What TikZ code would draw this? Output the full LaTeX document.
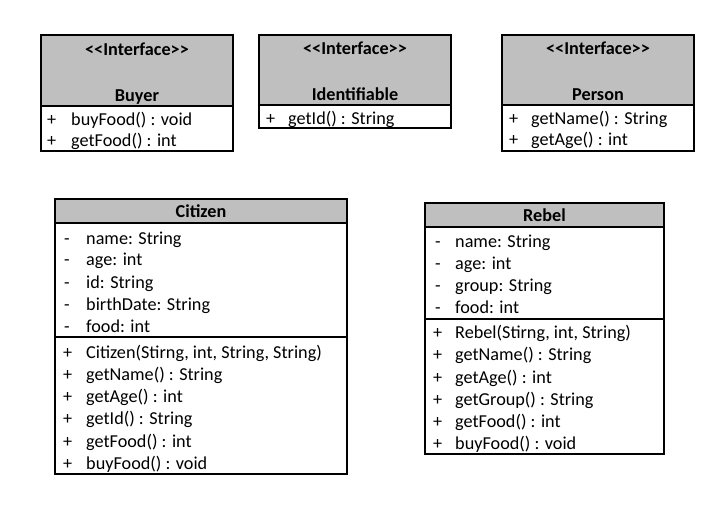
\documentclass[tikz,border=0pt]{standalone}
\usepackage{fontspec}
\newfontfamily\calibri{Carlito}
\definecolor{hdrgray}{RGB}{191,191,191}
\begin{document}
\begin{tikzpicture}[x=1pt,y=-1pt,
  frame/.style={draw=black,line width=1.6pt},
  headfill/.style={fill=hdrgray},
  rowtxt/.style={font=\calibri\fontsize{18.2}{22}\selectfont, anchor=west, inner sep=0pt, text height=14.5pt, text depth=1.5pt},
  headtxt/.style={font=\calibri\bfseries\fontsize{18.2}{22}\selectfont, anchor=center, inner sep=0pt, text height=14.5pt, text depth=1.5pt}]
\useasboundingbox[fill=white] (0,0) rectangle (708,517);

% ---------- Buyer ----------
\fill[headfill] (41,35) rectangle (233,106);
\draw[frame] (41,35) rectangle (233,151);
\draw[frame] (41,106) -- (233,106);
\node[headtxt] (buyerst) at (137,49) {<\kern0pt<Interface>\kern0pt>};
\node[headtxt] (buyername) at (137,95) {Buyer};
\node[rowtxt] (bs1) at (47,119) {+};
\node[rowtxt] (bm1) at (71,119) {buyFood() : void};
\node[rowtxt] (bs2) at (47,140) {+};
\node[rowtxt] (bm2) at (71,140) {getFood() : int};

% ---------- Identifiable ----------
\fill[headfill] (259,35) rectangle (451,105);
\draw[frame] (259,35) rectangle (451,128);
\draw[frame] (259,105) -- (451,105);
\node[headtxt] (idst) at (355,48) {<\kern0pt<Interface>\kern0pt>};
\node[headtxt] (idname) at (355,94) {Identifiable};
\node[rowtxt] (is1) at (266,118) {+};
\node[rowtxt] (im1) at (288,118) {getId() : String};

% ---------- Person ----------
\fill[headfill] (502,35) rectangle (694,105);
\draw[frame] (502,35) rectangle (694,151);
\draw[frame] (502,105) -- (694,105);
\node[headtxt] (pst) at (598,48) {<\kern0pt<Interface>\kern0pt>};
\node[headtxt] (pname) at (598,94) {Person};
\node[rowtxt] (ps1) at (509,118) {+};
\node[rowtxt] (pm1) at (531,118) {getName() : String};
\node[rowtxt] (ps2) at (509,139) {+};
\node[rowtxt] (pm2) at (531,139) {getAge() : int};

% ---------- Citizen ----------
\fill[headfill] (55,199) rectangle (347,223);
\draw[frame] (55,199) rectangle (347,474);
\draw[frame] (55,223) -- (347,223);
\draw[frame] (55,337) -- (347,337);
\node[headtxt] (cname) at (201,211) {Citizen};
\node[rowtxt] (cs1) at (64,238) {-};
\node[rowtxt] (ca1) at (86,238) {name: String};
\node[rowtxt] (cs2) at (64,259) {-};
\node[rowtxt] (ca2) at (86,259) {age: int};
\node[rowtxt] (cs3) at (64,282) {-};
\node[rowtxt] (ca3) at (86,282) {id: String};
\node[rowtxt] (cs4) at (64,304) {-};
\node[rowtxt] (ca4) at (86,304) {birthDate: String};
\node[rowtxt] (cs5) at (64,326) {-};
\node[rowtxt] (ca5) at (86,326) {food: int};
\node[rowtxt] (ct1) at (63,352) {+};
\node[rowtxt] (cm1) at (86,352) {Citizen(Stirng, int, String, String)};
\node[rowtxt] (ct2) at (63,374) {+};
\node[rowtxt] (cm2) at (86,374) {getName() : String};
\node[rowtxt] (ct3) at (63,396) {+};
\node[rowtxt] (cm3) at (86,396) {getAge() : int};
\node[rowtxt] (ct4) at (63,418) {+};
\node[rowtxt] (cm4) at (86,418) {getId() : String};
\node[rowtxt] (ct5) at (63,441) {+};
\node[rowtxt] (cm5) at (86,441) {getFood() : int};
\node[rowtxt] (ct6) at (63,463) {+};
\node[rowtxt] (cm6) at (86,463) {buyFood() : void};

% ---------- Rebel ----------
\fill[headfill] (425,203) rectangle (664,227);
\draw[frame] (425,203) rectangle (664,454);
\draw[frame] (425,227) -- (664,227);
\draw[frame] (425,319) -- (664,319);
\node[headtxt] (rname) at (544.5,215) {Rebel};
\node[rowtxt] (rs1) at (435,241) {-};
\node[rowtxt] (ra1) at (455,241) {name: String};
\node[rowtxt] (rs2) at (435,263) {-};
\node[rowtxt] (ra2) at (455,263) {age: int};
\node[rowtxt] (rs3) at (435,285) {-};
\node[rowtxt] (ra3) at (455,285) {group: String};
\node[rowtxt] (rs4) at (435,307) {-};
\node[rowtxt] (ra4) at (455,307) {food: int};
\node[rowtxt] (rt1) at (433,332) {+};
\node[rowtxt] (rm1) at (455,332) {Rebel(Stirng, int, String)};
\node[rowtxt] (rt2) at (433,354) {+};
\node[rowtxt] (rm2) at (455,354) {getName() : String};
\node[rowtxt] (rt3) at (433,377) {+};
\node[rowtxt] (rm3) at (455,377) {getAge() : int};
\node[rowtxt] (rt4) at (433,399) {+};
\node[rowtxt] (rm4) at (455,399) {getGroup() : String};
\node[rowtxt] (rt5) at (433,421) {+};
\node[rowtxt] (rm5) at (455,421) {getFood() : int};
\node[rowtxt] (rt6) at (433,443) {+};
\node[rowtxt] (rm6) at (455,443) {buyFood() : void};
\end{tikzpicture}
\end{document}
